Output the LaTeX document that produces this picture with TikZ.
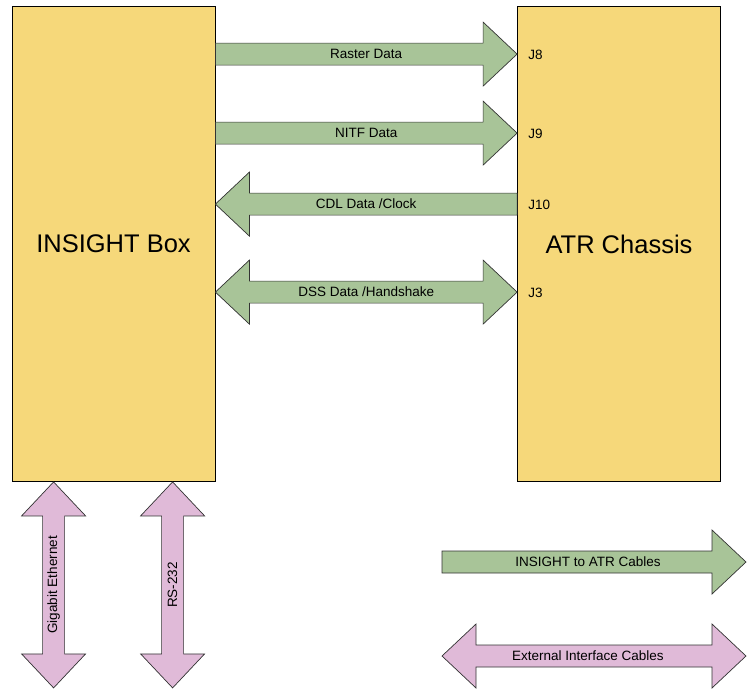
\documentclass[tikz,border=0pt]{standalone}
\usepackage{fontspec}
\setmainfont{Liberation Sans}
\usetikzlibrary{calc}
\definecolor{boxyellow}{RGB}{246,216,122}
\definecolor{cablegreen}{RGB}{168,196,152}
\definecolor{cablepink}{RGB}{224,186,216}
\tikzset{
  unit/.style={draw=black,line width=0.8pt,fill=boxyellow,inner sep=0pt,
    minimum width=203pt,minimum height=475pt,font=\fontsize{25.5}{30}\selectfont},
  green cable/.style={draw=black!80,line width=0.7pt,fill=cablegreen},
  pink cable/.style={draw=black!80,line width=0.7pt,fill=cablepink},
  cable label/.style={font=\fontsize{13.5}{15}\selectfont,inner sep=0pt},
  jack/.style={font=\fontsize{13.5}{15}\selectfont,anchor=west,inner sep=0pt}
}
% block arrow from #1 to #2
\newcommand\onewaycable[3]{%
  \coordinate (hb) at ($(#2)!34pt!(#1)$);
  \draw[#3] ($(#1)!11pt!90:(#2)$) -- ($(hb)!11pt!90:(#2)$) -- ($(hb)!32pt!90:(#2)$)
    -- (#2) -- ($(hb)!32pt!-90:(#2)$) -- ($(hb)!11pt!-90:(#2)$)
    -- ($(#1)!11pt!-90:(#2)$) -- cycle;}
% block arrow with heads at both ends
\newcommand\twowaycable[3]{%
  \coordinate (ha) at ($(#1)!34pt!(#2)$);
  \coordinate (hb) at ($(#2)!34pt!(#1)$);
  \draw[#3] (#1) -- ($(ha)!32pt!90:(#2)$) -- ($(ha)!11pt!90:(#2)$)
    -- ($(hb)!11pt!90:(#2)$) -- ($(hb)!32pt!90:(#2)$) -- (#2)
    -- ($(hb)!32pt!-90:(#2)$) -- ($(hb)!11pt!-90:(#2)$)
    -- ($(ha)!11pt!-90:(#2)$) -- ($(ha)!32pt!-90:(#2)$) -- cycle;}
\begin{document}
\begin{tikzpicture}[x=1pt,y=-1pt]
  \useasboundingbox (0,0) rectangle (756,689);
  % the two units
  \node[unit] (insight) at (113.5,244) {INSIGHT Box};
  \node[unit] (atr) at (619,244) {ATR Chassis};
  % connector points
  \coordinate (r8) at ($(insight.north east)+(0,48)$);
  \coordinate (j8) at ($(atr.north west)+(0,48)$);
  \coordinate (r9) at ($(insight.north east)+(0,127)$);
  \coordinate (j9) at ($(atr.north west)+(0,127)$);
  \coordinate (r10) at ($(insight.north east)+(0,198)$);
  \coordinate (j10) at ($(atr.north west)+(0,198)$);
  \coordinate (r3) at ($(insight.north east)+(0,286)$);
  \coordinate (j3) at ($(atr.north west)+(0,286)$);
  \coordinate (gbe) at ($(insight.south west)+(42,0)$);
  \coordinate (gbeend) at ($(gbe)+(0,206)$);
  \coordinate (rs) at ($(insight.south west)+(161,0)$);
  \coordinate (rsend) at ($(rs)+(0,206)$);
  % INSIGHT to ATR cables
  \onewaycable{r8}{j8}{green cable}
  \node[cable label] (rasterlbl) at ($(r8)!0.5!(j8)$) {Raster Data};
  \onewaycable{r9}{j9}{green cable}
  \node[cable label] (nitflbl) at ($(r9)!0.5!(j9)$) {NITF Data};
  \onewaycable{j10}{r10}{green cable}
  \node[cable label] (cdllbl) at ($(r10)!0.5!(j10)$) {CDL Data /Clock};
  \twowaycable{r3}{j3}{green cable}
  \node[cable label] (dsslbl) at ($(r3)!0.5!(j3)$) {DSS Data /Handshake};
  % jack names
  \node[jack] (j8lbl) at ($(j8)+(11,1)$) {J8};
  \node[jack] (j9lbl) at ($(j9)+(11,1)$) {J9};
  \node[jack] (j10lbl) at ($(j10)+(11,1)$) {J10};
  \node[jack] (j3lbl) at ($(j3)+(11,1)$) {J3};
  % external interfaces
  \twowaycable{gbe}{gbeend}{pink cable}
  \node[cable label,rotate=90] (gbelbl) at ($(gbe)!0.5!(gbeend)$) {Gigabit Ethernet};
  \twowaycable{rs}{rsend}{pink cable}
  \node[cable label,rotate=90] (rslbl) at ($(rs)!0.5!(rsend)$) {RS-232};
  % legend
  \coordinate (lga) at (442,562);
  \coordinate (lgb) at (746,562);
  \onewaycable{lga}{lgb}{green cable}
  \node[cable label] (lglbl) at ($(lga)!0.48!(lgb)$) {INSIGHT to ATR Cables};
  \coordinate (lpa) at (442,656);
  \coordinate (lpb) at (746,656);
  \twowaycable{lpa}{lpb}{pink cable}
  \node[cable label] (lplbl) at ($(lpa)!0.48!(lpb)$) {External Interface Cables};
\end{tikzpicture}
\end{document}
